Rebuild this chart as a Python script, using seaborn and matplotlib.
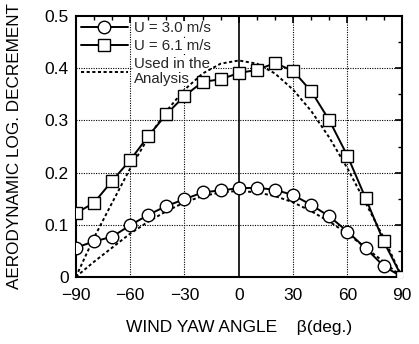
import numpy as np
import pandas as pd
import matplotlib
matplotlib.use("Agg")
import matplotlib.pyplot as plt
import seaborn as sns
from matplotlib.ticker import MultipleLocator

# Data
angles = [-90, -80, -70, -60, -50, -40, -30, -20, -10, 0, 10, 20, 30, 40, 50, 60, 70, 80, 90]
u30 = [0.056, 0.068, 0.077, 0.099, 0.119, 0.136, 0.149, 0.162, 0.166, 0.170,
       0.171, 0.167, 0.157, 0.138, 0.116, 0.087, 0.055, 0.021, 0.0]
u61 = [0.122, 0.142, 0.184, 0.224, 0.270, 0.312, 0.347, 0.374, 0.379, 0.391,
       0.397, 0.410, 0.395, 0.356, 0.300, 0.232, 0.151, 0.068, 0.0]
analysis_hi = [0.0, 0.075, 0.142, 0.208, 0.267, 0.318, 0.359, 0.390, 0.409, 0.415,
               0.409, 0.390, 0.359, 0.318, 0.267, 0.208, 0.142, 0.075, 0.0]
analysis_lo = [0.0, 0.029, 0.056, 0.083, 0.106, 0.126, 0.143, 0.155, 0.162, 0.165,
               0.162, 0.155, 0.143, 0.126, 0.106, 0.083, 0.056, 0.029, 0.0]
labels = ["U = 3.0 m/s", "U = 6.1 m/s", "Used in the\nAnalysis"]
xticks = [-90, -60, -30, 0, 30, 60, 90]
yticks = [0, 0.1, 0.2, 0.3, 0.4, 0.5]

sns.set_theme(style="white")
plt.rcParams['font.family'] = ['Liberation Sans', 'DejaVu Sans']

df = pd.DataFrame({"angle": angles, "u30": u30, "u61": u61,
                   "hi": analysis_hi, "lo": analysis_lo})

fig = plt.figure(figsize=(4.19, 3.44), dpi=100)
ax = fig.add_axes([0.181, 0.195, 0.778, 0.758])

# grid
for gx in [-60, -30, 30, 60]:
    ax.axvline(gx, color="black", lw=0.8, ls=(0, (1, 1.2)), zorder=0)
for gy in [0.1, 0.2, 0.3, 0.4]:
    ax.axhline(gy, color="black", lw=0.8, ls=(0, (1, 1.2)), zorder=0)
ax.axvline(0, color="black", lw=1.2, zorder=0)

sns.lineplot(data=df, x="angle", y="hi", ax=ax, color="black", lw=1.4,
             linestyle=(0, (1.6, 1.3)), label=labels[2], zorder=2)
sns.lineplot(data=df, x="angle", y="lo", ax=ax, color="black", lw=1.4,
             linestyle=(0, (1.6, 1.3)), zorder=2)
sns.lineplot(data=df, x="angle", y="u30", ax=ax, color="black", lw=1.4,
             marker="o", markersize=9, markerfacecolor="white",
             markeredgecolor="black", markeredgewidth=1.0, label=labels[0], zorder=3)
sns.lineplot(data=df, x="angle", y="u61", ax=ax, color="black", lw=1.4,
             marker="s", markersize=8, markerfacecolor="white",
             markeredgecolor="black", markeredgewidth=1.0, label=labels[1], zorder=3)

ax.set_xlim(-90, 90)
ax.set_ylim(0, 0.5)
ax.set_xticks(xticks)
ax.set_xticklabels([("\u2212" + str(-t)) if t < 0 else str(t) for t in xticks])
ax.set_yticks(yticks)
ax.set_yticklabels(["0", "0.1", "0.2", "0.3", "0.4", "0.5"])
ax.xaxis.set_minor_locator(MultipleLocator(10))
ax.yaxis.set_minor_locator(MultipleLocator(0.05))
ax.tick_params(which="both", direction="in", top=True, right=True,
               labelsize=12.5, colors="black")
ax.tick_params(which="major", length=5, width=1.2, pad=5)
ax.tick_params(axis="x", which="major", pad=8)
ax.tick_params(which="minor", length=3, width=1.0)
for s in ax.spines.values():
    s.set_color("black")
    s.set_linewidth(1.5)

ax.set_xlabel("WIND YAW ANGLE    \u03b2(deg.)", fontsize=12.5, color="black", labelpad=12)
ax.set_ylabel("AERODYNAMIC LOG. DECREMENT", fontsize=12.3, color="black", labelpad=16)

h, l = ax.get_legend_handles_labels()
order = [l.index(labels[0]), l.index(labels[1]), l.index(labels[2])]
leg = ax.legend([h[i] for i in order], [l[i] for i in order], loc="upper left",
                frameon=False, fontsize=10.8, handlelength=3.1, handletextpad=0.4,
                labelspacing=0.25, borderpad=0.2, borderaxespad=0.15)
for t in leg.get_texts():
    t.set_linespacing(1.1)
    t.set_bbox(dict(facecolor="white", edgecolor="none", pad=0.3))
leg.set_zorder(1.5)

fig.savefig("out.png", dpi=100)
